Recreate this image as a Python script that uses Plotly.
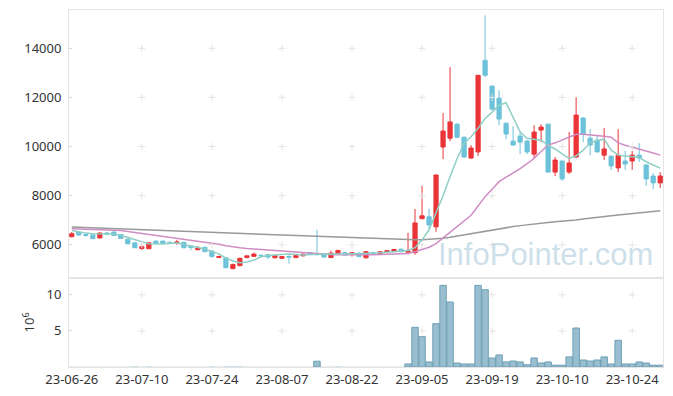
import plotly.graph_objects as go

dates = [
    "23-06-26", "23-06-27", "23-06-28", "23-06-29", "23-06-30",
    "23-07-03", "23-07-04", "23-07-05", "23-07-06", "23-07-07",
    "23-07-10", "23-07-11", "23-07-12", "23-07-13", "23-07-14",
    "23-07-17", "23-07-18", "23-07-19", "23-07-20", "23-07-21",
    "23-07-24", "23-07-25", "23-07-26", "23-07-27", "23-07-28",
    "23-07-31", "23-08-01", "23-08-02", "23-08-03", "23-08-04",
    "23-08-07", "23-08-08", "23-08-09", "23-08-10", "23-08-11",
    "23-08-14", "23-08-16", "23-08-17", "23-08-18", "23-08-21",
    "23-08-22", "23-08-23", "23-08-24", "23-08-25", "23-08-28",
    "23-08-29", "23-08-30", "23-08-31", "23-09-01", "23-09-04",
    "23-09-05", "23-09-06", "23-09-07", "23-09-08", "23-09-11",
    "23-09-12", "23-09-13", "23-09-14", "23-09-15", "23-09-18",
    "23-09-19", "23-09-20", "23-09-21", "23-09-22", "23-09-25",
    "23-09-26", "23-09-27", "23-10-04", "23-10-05", "23-10-06",
    "23-10-10", "23-10-11", "23-10-12", "23-10-13", "23-10-16",
    "23-10-17", "23-10-18", "23-10-19", "23-10-20", "23-10-23",
    "23-10-24", "23-10-25", "23-10-26", "23-10-27", "23-10-30",
]

open_ = [
    6330, 6520, 6420, 6400, 6280, 6480, 6520, 6420, 6230, 6080,
    5850, 5840, 6150, 6150, 6100, 6080, 6100, 5950, 5800, 5900,
    5750, 5480, 5470, 5030, 5150, 5480, 5530, 5570, 5600, 5470,
    5450, 5530, 5480, 5550, 5680, 5640, 5640, 5480, 5650, 5680,
    5600, 5660, 5470, 5680, 5640, 5700, 5740, 5820, 5700, 5680,
    7060, 7140, 6730, 9980, 10340, 10910, 10380, 9530, 9780, 13510,
    12460, 11970, 10950, 10220, 10430, 10220, 9690, 10670, 10910, 8960,
    9410, 8960, 9570, 11160, 10340, 10260, 9650, 9610, 9130, 9410,
    9410, 9650, 9250, 8800, 8520,
]
high = [
    6520, 6560, 6470, 6420, 6500, 6520, 6540, 6440, 6250, 6090,
    5990, 6100, 6170, 6170, 6130, 6200, 6120, 5980, 5950, 5920,
    5760, 5560, 5480, 5230, 5480, 5560, 5680, 5620, 5620, 5580,
    5540, 5560, 5580, 5640, 5700, 6610, 5660, 5760, 5790, 5700,
    5700, 5680, 5740, 5720, 5740, 5790, 5830, 5840, 6490, 7460,
    8400, 7460, 8860, 11360, 13230, 10950, 10400, 10060, 12900, 15340,
    12480, 12290, 10970, 10830, 10590, 10260, 10870, 10910, 10930, 9570,
    9420, 10590, 12010, 11200, 10710, 10470, 10750, 9620, 10710, 9820,
    9820, 10140, 9270, 8920, 8960,
]
low = [
    6300, 6370, 6330, 6230, 6260, 6400, 6370, 6240, 6020, 5870,
    5790, 5830, 6030, 6040, 6010, 6000, 5860, 5780, 5780, 5700,
    5480, 5460, 5040, 5000, 5120, 5450, 5510, 5500, 5420, 5450,
    5420, 5230, 5460, 5530, 5580, 5580, 5480, 5460, 5620, 5560,
    5520, 5500, 5450, 5630, 5620, 5680, 5720, 5700, 5680, 5600,
    7050, 6610, 6530, 9490, 10220, 10340, 9570, 9490, 9610, 12820,
    11500, 10870, 10300, 10020, 9690, 9690, 9530, 10180, 8940, 8800,
    8600, 8880, 9570, 10180, 9650, 9760, 9450, 9050, 8960, 9050,
    9050, 9370, 8400, 8270, 8310,
]
close = [
    6450, 6400, 6380, 6250, 6480, 6430, 6380, 6260, 6040, 5880,
    5920, 6080, 6050, 6060, 6060, 6110, 5880, 5890, 5880, 5720,
    5520, 5520, 5070, 5200, 5450, 5550, 5620, 5550, 5500, 5560,
    5520, 5500, 5560, 5620, 5600, 5600, 5500, 5660, 5770, 5580,
    5680, 5520, 5720, 5650, 5720, 5760, 5810, 5720, 5740, 6890,
    7180, 6810, 8840, 10630, 11000, 10380, 9570, 9940, 12900, 12900,
    11520, 11120, 10510, 10060, 10180, 9780, 10590, 10790, 8960, 9450,
    8680, 9330, 11280, 10510, 10060, 9780, 9900, 9210, 9650, 9290,
    9650, 9530, 8680, 8520, 8800,
]

ma5 = [
    6580, 6520, 6475, 6445, 6440, 6440, 6440, 6390, 6290, 6190,
    6120, 6040, 6020, 6030, 6060, 6070, 6010, 5940, 5890, 5830,
    5720, 5630, 5460, 5340, 5270, 5300, 5380, 5510, 5560, 5580,
    5580, 5620, 5600, 5580, 5600, 5610, 5600, 5610, 5620, 5640,
    5640, 5640, 5650, 5650, 5660, 5700, 5720, 5750, 5770, 5880,
    6200, 6610, 7300, 8000, 8770, 9500, 10130, 10400, 10740, 11140,
    11400, 11680, 11780, 11200, 10600, 10330, 10290, 10260, 10060, 9900,
    9700, 9520, 9620, 9850, 10150, 10250, 10300, 9850, 9650, 9600,
    9580, 9550, 9380, 9250, 9120,
]
ma20 = [
    6650, 6640, 6635, 6630, 6625, 6615, 6605, 6580, 6540, 6500,
    6460, 6420, 6390, 6350, 6320, 6290, 6250, 6210, 6170, 6120,
    6070, 6020, 5960, 5910, 5880, 5850, 5830, 5800, 5770, 5740,
    5720, 5700, 5680, 5660, 5640, 5620, 5610, 5600, 5595, 5590,
    5590, 5590, 5590, 5595, 5600, 5610, 5620, 5630, 5650, 5720,
    5820, 5900, 6050, 6280, 6520, 6740, 6950, 7200, 7580, 7960,
    8260, 8570, 8750, 8920, 9100, 9300, 9520, 9800, 10060, 10150,
    10260, 10400, 10500, 10500, 10480, 10460, 10420, 10380, 10150, 10050,
    9980, 9900, 9820, 9740, 9650,
]
ma120 = [
    6720, 6710, 6700, 6690, 6680, 6670, 6660, 6650, 6640, 6630,
    6620, 6610, 6600, 6590, 6580, 6570, 6560, 6550, 6540, 6530,
    6515, 6500, 6490, 6475, 6460, 6450, 6440, 6430, 6420, 6410,
    6400, 6390, 6375, 6365, 6350, 6340, 6330, 6315, 6300, 6290,
    6280, 6270, 6260, 6250, 6240, 6230, 6220, 6210, 6200, 6200,
    6210, 6225, 6245, 6270, 6310, 6360, 6410, 6470, 6520, 6570,
    6620, 6660, 6700, 6740, 6780, 6820, 6850, 6880, 6910, 6940,
    6960, 6975, 7010, 7050, 7090, 7125, 7150, 7180, 7210, 7240,
    7270, 7300, 7330, 7360, 7390,
]

# volume in millions of shares
volume_m = [
    0.05, 0.04, 0.03, 0.04, 0.05, 0.03, 0.03, 0.04, 0.05, 0.06,
    0.05, 0.06, 0.03, 0.03, 0.03, 0.04, 0.05, 0.04, 0.04, 0.05,
    0.06, 0.04, 0.08, 0.07, 0.06, 0.04, 0.04, 0.03, 0.04, 0.03,
    0.03, 0.05, 0.03, 0.03, 0.03, 0.80, 0.05, 0.05, 0.06, 0.04,
    0.04, 0.04, 0.05, 0.03, 0.03, 0.04, 0.04, 0.04, 0.42, 5.50,
    4.20, 0.70, 6.00, 11.30, 9.00, 0.55, 0.42, 0.42, 11.30, 10.70,
    1.25, 1.67, 0.70, 0.83, 0.70, 0.30, 1.25, 0.55, 0.70, 0.25,
    0.25, 1.40, 5.40, 0.97, 0.83, 0.97, 1.40, 0.42, 3.70, 0.42,
    0.42, 0.70, 0.55, 0.25, 0.25,
]

price_ticks = [6000, 8000, 10000, 12000, 14000]
volume_ticks = [5, 10]
date_tick_step = 10

RED = "#ea3437"
BLUE = "#6cc2d9"
FONT = dict(family="Noto Sans, DejaVu Sans, sans-serif", size=13, color="#333333")
AXIS_LINE = "#e4e4e4"
CROSS = "#e3e3e3"

tick_dates = dates[::date_tick_step]

fig = go.Figure()

fig.add_trace(go.Scatter(x=dates, y=ma120, mode="lines", xaxis="x", yaxis="y",
                         line=dict(color="#9a9a9a", width=1.5), showlegend=False))

fig.add_trace(go.Candlestick(
    x=dates, open=open_, high=high, low=low, close=close,
    xaxis="x", yaxis="y",
    increasing=dict(line=dict(color=RED, width=1), fillcolor=RED),
    decreasing=dict(line=dict(color=BLUE, width=1), fillcolor=BLUE),
    whiskerwidth=0, showlegend=False,
))

fig.add_trace(go.Scatter(x=dates, y=ma20, mode="lines", xaxis="x", yaxis="y",
                         line=dict(color="#cf8dc3", width=1.5), showlegend=False))
fig.add_trace(go.Scatter(x=dates, y=ma5, mode="lines", xaxis="x", yaxis="y",
                         line=dict(color="#8fcfc5", width=1.5), showlegend=False))

# bars too small to show get no outline (as in the reference)
vol_line_w = [1 if v >= 0.2 else 0 for v in volume_m]
fig.add_trace(go.Bar(x=dates, y=volume_m, xaxis="x2", yaxis="y2",
                     marker=dict(color="rgba(128,174,196,0.8)",
                                 line=dict(color="#6e9fb6", width=vol_line_w)),
                     showlegend=False))

# grid crosses at tick intersections
cx, cy = [], []
for d in tick_dates[1:]:
    for p in price_ticks:
        cx.append(d)
        cy.append(p)
fig.add_trace(go.Scatter(x=cx, y=cy, mode="markers", xaxis="x", yaxis="y",
                         marker=dict(symbol="cross-thin", size=5,
                                     line=dict(color=CROSS, width=1)),
                         hoverinfo="skip", showlegend=False))
vx, vy = [], []
for d in tick_dates[1:]:
    for v in volume_ticks:
        vx.append(d)
        vy.append(v)
fig.add_trace(go.Scatter(x=vx, y=vy, mode="markers", xaxis="x2", yaxis="y2",
                         marker=dict(symbol="cross-thin", size=5,
                                     line=dict(color=CROSS, width=1)),
                         hoverinfo="skip", showlegend=False))

fig.update_layout(
    width=673, height=396,
    margin=dict(l=69, r=10, t=10, b=29, autoexpand=False),
    paper_bgcolor="white", plot_bgcolor="white",
    font=FONT,
    showlegend=False,
    boxgap=0.14,
    bargap=0.08,
    xaxis=dict(domain=[0, 1], anchor="y", type="category", automargin=False,
               categoryorder="array", categoryarray=dates,
               range=[-0.4, len(dates) - 0.6],
               showticklabels=False, showgrid=False, zeroline=False,
               showline=True, linecolor=AXIS_LINE, linewidth=1, mirror=True,
               rangeslider=dict(visible=False), ticks=""),
    yaxis=dict(domain=[0.25, 1], anchor="x", range=[4658, 15558],
               automargin=False,
               tickvals=price_ticks, tickformat="d",
               showgrid=False, zeroline=False,
               showline=True, linecolor=AXIS_LINE, linewidth=1, mirror=True,
               ticks="inside", ticklen=3, tickcolor="#d8d8d8",
               ticklabelstandoff=4),
    xaxis2=dict(domain=[0, 1], anchor="y2", type="category", automargin=False,
                categoryorder="array", categoryarray=dates,
                range=[-0.4, len(dates) - 0.6],
                tickvals=tick_dates, ticktext=tick_dates,
                showgrid=False, zeroline=False, showline=True,
                linecolor=AXIS_LINE, linewidth=1, mirror=True,
                ticks="", tickangle=0),
    yaxis2=dict(domain=[0, 0.25], anchor="x2", range=[0, 12.36],
                automargin=False,
                tickvals=volume_ticks, tickformat="d",
                showgrid=False, zeroline=False,
                showline=True, linecolor=AXIS_LINE, linewidth=1, mirror=True,
                ticks="inside", ticklen=3, tickcolor="#d8d8d8",
                ticklabelstandoff=4,
                title=dict(text="10<sup>6</sup>", standoff=8,
                           font=dict(size=13, color="#333333"))),
    annotations=[dict(text="InfoPointer.com", xref="paper", yref="paper",
                      x=0.803, y=0.314, xanchor="center", yanchor="middle",
                      showarrow=False,
                      font=dict(family="Liberation Sans, Arial, sans-serif",
                                size=31, color="rgba(172,203,220,0.6)"))],
)

fig.write_html("out.html",
               config={"displayModeBar": False, "staticPlot": True},
               post_script="document.body.style.margin='0';"
                           "document.body.style.overflow='hidden';")
